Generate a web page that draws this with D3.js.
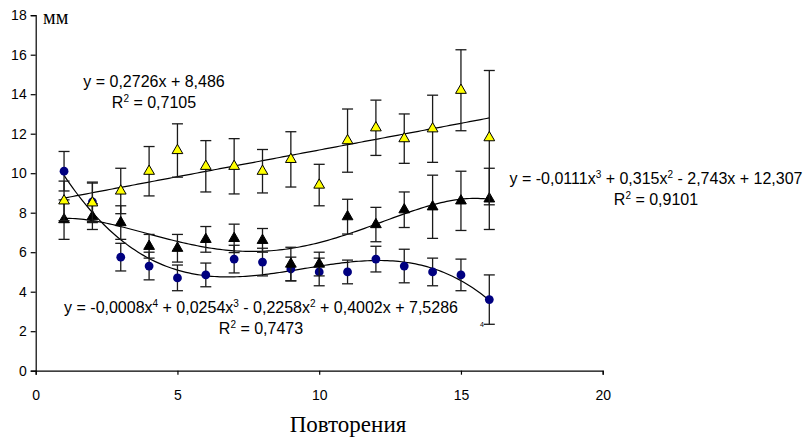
<!DOCTYPE html>
<html><head><meta charset="utf-8">
<script src="https://cdn.jsdelivr.net/npm/d3@7"></script>
<style>body{margin:0;background:#fff}svg{display:block}</style>
</head><body>
<svg id="chart" width="807" height="437"></svg>
<script>
// Repetition number on the x axis
const repeats = d3.range(1, 17);

// Series A: navy circles, cubic trend
const circleVals = [10.1, 8.55, 5.75, 5.3, 4.7, 4.85, 5.65, 5.5, 5.15, 5.0, 5.0, 5.65, 5.3, 5.0, 4.85, 3.6];
const circleErr  = [1.0, 1.0, 0.7, 0.7, 0.65, 0.6, 0.7, 0.7, 0.6, 0.7, 0.6, 0.65, 0.85, 0.7, 0.8, 1.25];

// Series B: black triangles, quartic trend
const blackVals = [7.65, 7.8, 7.5, 6.3, 6.2, 6.65, 6.7, 6.6, 5.4, 5.4, 7.8, 7.4, 8.15, 8.3, 8.6, 8.7];
const blackErr  = [1.0, 0.65, 0.85, 0.6, 0.7, 0.65, 0.72, 0.6, 0.85, 0.6, 0.88, 0.87, 0.9, 1.6, 1.5, 1.55];

// Series C: yellow triangles, linear trend
const yellowVals = [8.6, 8.5, 9.1, 10.1, 11.15, 10.35, 10.35, 10.1, 10.7, 9.4, 11.65, 12.3, 11.75, 12.25, 14.2, 11.8];
const yellowErr  = [1.0, 1.0, 1.15, 1.25, 1.35, 1.3, 1.4, 1.1, 1.4, 1.05, 1.6, 1.4, 1.25, 1.7, 2.05, 3.4];

const xTicks = [0, 5, 10, 15, 20];
const yTicks = [0, 2, 4, 6, 8, 10, 12, 14, 16, 18];

const svg = d3.select("#chart");
const x = d3.scaleLinear().domain([0, 20]).range([35.7, 602.7]);
const y = d3.scaleLinear().domain([0, 18]).range([370.7, 15.2]);

const sans = "'Liberation Sans', Arial, sans-serif";
const serif = "'Liberation Serif', 'Times New Roman', serif";

// Axes
const yAxis = svg.append("g").attr("transform", `translate(${x(0)},0)`)
  .call(d3.axisLeft(y).tickValues(yTicks).tickSize(5).tickPadding(4).tickFormat(d3.format("d")));
const xAxis = svg.append("g").attr("transform", `translate(0,${y(0)})`)
  .call(d3.axisBottom(x).tickValues(xTicks).tickSize(4).tickPadding(15).tickFormat(d3.format("d")));
[yAxis, xAxis].forEach(g => {
  g.select(".domain").attr("stroke", "#000").attr("stroke-width", 1.2);
  g.selectAll(".tick line").attr("stroke", "#000").attr("stroke-width", 1.2);
  g.selectAll(".tick text").attr("font-family", sans).attr("font-size", 14).attr("fill", "#000");
});

svg.append("text").attr("x", 43).attr("y", 24).attr("font-family", serif)
  .attr("font-size", 20).text("мм");
svg.append("text").attr("x", 348).attr("y", 432).attr("text-anchor", "middle")
  .attr("font-family", serif).attr("font-size", 23).text("Повторения");

// Least-squares polynomial fit (normal equations)
function polyfit(xs, ys, deg) {
  const n = deg + 1;
  const A = Array.from({length: n}, () => new Array(n + 1).fill(0));
  for (let r = 0; r < n; r++) {
    for (let c = 0; c < n; c++) A[r][c] = d3.sum(xs, v => Math.pow(v, r + c));
    A[r][n] = d3.sum(xs, (v, i) => Math.pow(v, r) * ys[i]);
  }
  for (let i = 0; i < n; i++) {
    let p = i;
    for (let k = i + 1; k < n; k++) if (Math.abs(A[k][i]) > Math.abs(A[p][i])) p = k;
    [A[i], A[p]] = [A[p], A[i]];
    for (let k = i + 1; k < n; k++) {
      const f = A[k][i] / A[i][i];
      for (let c = i; c <= n; c++) A[k][c] -= f * A[i][c];
    }
  }
  const coef = new Array(n).fill(0);
  for (let i = n - 1; i >= 0; i--) {
    let s = A[i][n];
    for (let c = i + 1; c < n; c++) s -= A[i][c] * coef[c];
    coef[i] = s / A[i][i];
  }
  return t => coef.reduce((acc, a, k) => acc + a * Math.pow(t, k), 0);
}

const series = [
  {vals: circleVals, err: circleErr, deg: 3, shape: "circle", fill: "#000080"},
  {vals: blackVals, err: blackErr, deg: 4, shape: "tri", fill: "#000000"},
  {vals: yellowVals, err: yellowErr, deg: 1, shape: "tri", fill: "#ffff00"}
];

const line = d3.line().x(d => x(d[0])).y(d => y(d[1]));
const samples = d3.range(1, 16.001, 0.1);

// Trend lines
series.forEach(s => {
  const f = polyfit(repeats, s.vals, s.deg);
  svg.append("path").datum(samples.map(t => [t, f(t)]))
    .attr("d", line).attr("fill", "none").attr("stroke", "#000").attr("stroke-width", 1.2);
});

// Error bars and markers
const tri = d3.symbol().type(d3.symbolTriangle).size(50);
series.forEach(s => {
  const g = svg.append("g");
  const data = repeats.map((r, i) => ({x: r, v: s.vals[i], e: s.err[i]}));
  const eb = g.selectAll(".eb").data(data).join("g").attr("stroke", "#1a1a1a").attr("stroke-width", 1.3);
  eb.append("line").attr("x1", d => x(d.x)).attr("x2", d => x(d.x))
    .attr("y1", d => y(d.v + d.e)).attr("y2", d => y(d.v - d.e));
  eb.append("line").attr("x1", d => x(d.x) - 5.5).attr("x2", d => x(d.x) + 5.5)
    .attr("y1", d => y(d.v + d.e)).attr("y2", d => y(d.v + d.e));
  eb.append("line").attr("x1", d => x(d.x) - 5.5).attr("x2", d => x(d.x) + 5.5)
    .attr("y1", d => y(d.v - d.e)).attr("y2", d => y(d.v - d.e));
  if (s.shape === "circle") {
    g.selectAll("circle").data(data).join("circle")
      .attr("cx", d => x(d.x)).attr("cy", d => y(d.v)).attr("r", 4.4).attr("fill", s.fill);
  } else {
    g.selectAll("path.m").data(data).join("path").attr("class", "m")
      .attr("d", tri).attr("transform", d => `translate(${x(d.x)},${y(d.v)})`)
      .attr("fill", s.fill).attr("stroke", "#000").attr("stroke-width", 1);
  }
});

// Trend equations
function eq(cx, by, parts, r2) {
  const t = svg.append("text").attr("x", cx).attr("y", by).attr("text-anchor", "middle")
    .attr("font-family", sans).attr("font-size", 16);
  parts.forEach(p => {
    if (p.sup) t.append("tspan").attr("dy", -6).attr("font-size", 10).text(p.sup);
    else t.append("tspan").attr("dy", p.after ? 6 : 0).text(p.t);
  });
  const r = svg.append("text").attr("x", cx).attr("y", by + 20.5).attr("text-anchor", "middle")
    .attr("font-family", sans).attr("font-size", 16);
  r.append("tspan").text("R");
  r.append("tspan").attr("dy", -6).attr("font-size", 10).text("2");
  r.append("tspan").attr("dy", 6).text(" = " + r2);
}
eq(154, 87, [{t: "y = 0,2726x + 8,486"}], "0,7105");
eq(656, 184, [{t: "y = -0,0111x"}, {sup: "3"}, {t: " + 0,315x", after: true}, {sup: "2"},
  {t: " - 2,743x + 12,307", after: true}], "0,9101");
eq(261, 313, [{t: "y = -0,0008x"}, {sup: "4"}, {t: " + 0,0254x", after: true}, {sup: "3"},
  {t: " - 0,2258x", after: true}, {sup: "2"}, {t: " + 0,4002x + 7,5286", after: true}], "0,7473");

svg.append("text").attr("x", 480).attr("y", 327).attr("font-family", sans)
  .attr("font-size", 7).attr("fill", "#000").text("4");
</script>
</body></html>
